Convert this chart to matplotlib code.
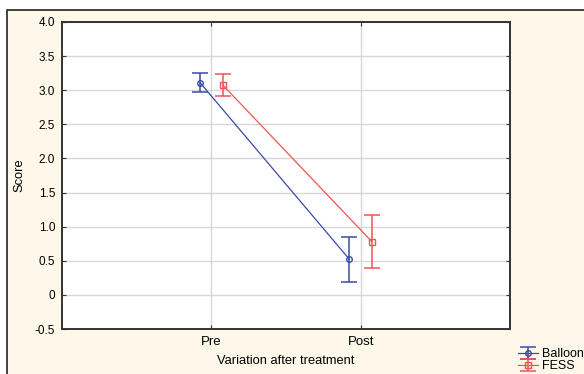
import matplotlib.pyplot as plt
from matplotlib.patches import Rectangle
import numpy as np

plt.rcParams['font.family'] = ['Liberation Sans', 'DejaVu Sans']

stages = ['Pre', 'Post']
balloon_mean = [3.11, 0.52]
balloon_err = [0.14, 0.325]
fess_mean = [3.08, 0.78]
fess_err = [0.16, 0.385]

fig = plt.figure(figsize=(5.84, 3.74), dpi=100)
fig.patch.set_facecolor('white')
# cream panel behind the chart
fig.patches.append(Rectangle((7 / 584, -0.1), 1.2, 1.1 - 10 / 374,
                             transform=fig.transFigure, facecolor='#fdf8ea',
                             edgecolor='#222222', linewidth=1.2, zorder=-5))

ax = fig.add_axes([62 / 584, 1 - 329 / 374, 448 / 584, (329 - 22) / 374])
ax.set_facecolor('white')
ax.set_zorder(1)

x = np.arange(1, len(stages) + 1)
off = 0.075
ax.errorbar(x - off, balloon_mean, yerr=balloon_err, color='#3a4aa8', lw=0.9,
            marker='o', ms=4, mfc='none', mec='#3a4aa8', capsize=5.5,
            elinewidth=1.1, capthick=1.1, label='Balloon')
ax.errorbar(x + off, fess_mean, yerr=fess_err, color='#f05454', lw=0.9,
            marker='s', ms=4, mfc='none', mec='#f05454', capsize=5.5,
            elinewidth=1.1, capthick=1.1, label='FESS')

ax.set_xlim(0, 3)
ax.set_ylim(-0.5, 4.0)
ax.set_xticks(x)
ax.set_xticklabels(stages, fontsize=9.5)
yt = np.arange(-0.5, 4.01, 0.5)
ax.set_yticks(yt)
ax.set_yticklabels(['-0.5', '0'] + ['%.1f' % v for v in yt[2:]], fontsize=8.5)
ax.grid(True, color='#d8d8d8', lw=1)
ax.set_axisbelow(True)
ax.tick_params(direction='in', length=3, color='#333333', top=True, right=True,
               labeltop=False, labelright=False, pad=5)
for s in ax.spines.values():
    s.set_color('#333333')
    s.set_linewidth(1.4)

ax.set_xlabel('Variation after treatment', fontsize=9.3, labelpad=5)
ax.set_ylabel('Score', fontsize=9.3, labelpad=7)

leg = fig.legend(loc='upper left', bbox_to_anchor=(512 / 584, 1 - 342 / 374),
                 frameon=False, fontsize=9, handlelength=1.6, handletextpad=0.3,
                 labelspacing=0.0, borderpad=0)
leg.set_zorder(2)

fig.savefig('out.png', dpi=100)
